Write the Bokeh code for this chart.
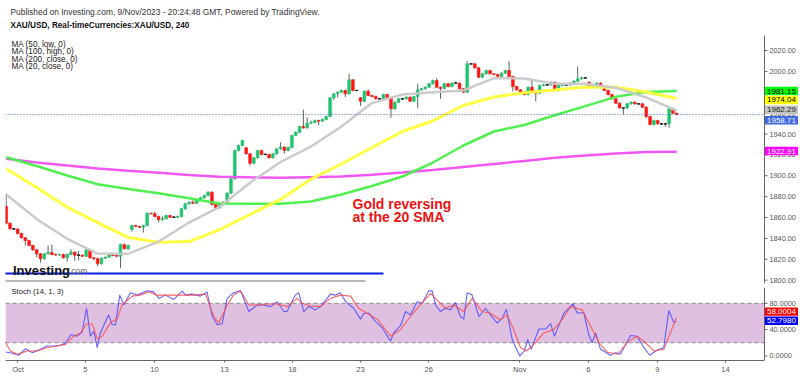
from bokeh.plotting import figure
from bokeh.layouts import column
from bokeh.models import Range1d, FixedTicker, Label, BoxAnnotation, ColumnDataSource
from bokeh.core.properties import value
from bokeh.embed import file_html
from bokeh.resources import INLINE

# ---------------- data (XAU/USD, 4h candles) ----------------
OPEN = [1870.6,1854.6,1849.2,1849.0,1844.7,1840.6,1838.0,1833.2,1829.1,1825.2,
        1820.4,1825.2,1826.5,1824.6,1824.1,1824.6,1821.4,1824.6,1826.8,1823.9,
        1823.9,1822.9,1829.1,1821.4,1820.7,1815.7,1821.0,1822.0,1824.3,1823.6,
        1822.9,1834.1,1830.0,1848.5,1852.3,1851.4,1850.7,1852.3,1864.1,1863.6,
        1861.0,1857.8,1858.8,1861.9,1860.3,1860.3,1861.0,1868.3,1873.1,1874.7,
        1873.7,1877.0,1878.9,1881.1,1884.3,1872.5,1869.3,1872.5,1874.7,1883.3,
        1897.1,1924.2,1929.0,1926.8,1921.0,1912.0,1917.2,1924.2,1920.4,1920.4,
        1917.2,1921.0,1925.8,1927.4,1924.2,1927.1,1938.6,1941.7,1947.2,1945.9,
        1950.4,1951.0,1952.9,1952.3,1953.9,1956.8,1974.7,1978.5,1980.1,1981.7,
        1978.5,1991.9,1981.7,1974.7,1971.4,1981.0,1976.9,1975.9,1973.7,1973.7,
        1977.8,1974.7,1964.1,1970.5,1973.7,1973.7,1975.3,1971.4,1975.9,1982.3,
        1983.3,1984.8,1988.1,1991.3,1984.8,1983.6,1988.1,1985.5,1988.7,1988.7,
        1983.3,1980.1,2007.2,2007.2,2003.4,1994.4,1997.7,2000.8,1997.7,1997.0,
        1995.1,1998.3,2000.8,1995.1,1985.5,1982.3,1980.1,1977.8,1984.8,1980.1,
        1979.1,1986.5,1987.1,1987.1,1989.6,1981.7,1986.5,1987.1,1987.1,1988.7,
        1990.6,1992.9,1993.8,1989.6,1985.5,1985.5,1988.7,1984.8,1981.7,1977.8,
        1973.7,1969.5,1965.0,1964.9,1968.9,1970.5,1968.9,1968.9,1965.7,1956.8,
        1949.1,1952.9,1949.8,1949.8,1949.8,1964.1,1959.9]
HIGH = [1883.0,1855.4,1850.0,1849.8,1845.5,1841.4,1838.8,1834.0,1829.9,1826.0,
        1826.0,1833.2,1834.1,1825.4,1825.4,1825.4,1825.4,1829.5,1827.6,1828.0,
        1824.7,1830.0,1829.9,1822.2,1821.5,1821.8,1822.8,1825.1,1825.1,1824.4,
        1835.0,1834.9,1834.0,1853.1,1853.1,1852.2,1853.1,1864.9,1864.9,1865.5,
        1861.8,1861.0,1862.7,1862.7,1861.1,1861.8,1869.1,1873.9,1875.5,1876.5,
        1877.8,1879.7,1881.9,1885.1,1885.1,1873.3,1873.3,1875.5,1884.1,1897.9,
        1925.0,1929.8,1934.6,1927.6,1921.8,1918.0,1925.0,1925.0,1921.2,1921.2,
        1921.8,1926.6,1932.0,1928.2,1927.9,1939.4,1942.5,1948.0,1963.2,1956.0,
        1953.0,1953.7,1953.7,1954.7,1957.6,1975.5,1979.3,1980.9,1982.5,1982.5,
        1997.7,1992.7,1982.5,1975.5,1981.8,1982.8,1977.7,1976.7,1974.5,1978.6,
        1978.6,1975.5,1971.3,1974.5,1974.5,1976.1,1976.1,1976.7,1988.1,1984.1,
        1985.6,1988.9,1992.1,1993.5,1985.6,1988.9,1988.9,1989.5,1990.5,1989.5,
        1984.1,2009.8,2008.0,2008.0,2004.2,1998.5,2001.6,2001.6,1998.5,1997.8,
        1999.1,2001.6,2009.8,1995.9,1986.3,1983.1,1980.9,1985.6,1992.9,1980.9,
        1987.3,1987.9,1987.9,1990.4,1990.4,1987.3,1987.9,1987.9,1989.5,1991.4,
        2004.7,1995.0,1994.6,1990.4,1986.3,1989.5,1989.5,1985.6,1982.5,1978.6,
        1974.5,1970.3,1965.8,1969.7,1971.3,1971.3,1969.7,1969.7,1966.5,1957.6,
        1953.7,1953.7,1950.6,1950.6,1966.9,1964.9,1960.7]
LOW = [1853.3,1848.4,1848.2,1843.9,1839.8,1833.2,1832.4,1828.3,1822.0,1816.9,
       1819.6,1824.4,1823.8,1823.3,1823.3,1820.6,1818.0,1823.8,1818.5,1819.0,
       1822.1,1822.1,1820.6,1819.0,1813.1,1814.9,1820.2,1821.2,1822.8,1822.1,
       1811.8,1829.2,1829.2,1846.5,1850.6,1849.9,1845.6,1851.5,1862.8,1860.2,
       1855.5,1857.0,1858.0,1859.5,1859.5,1859.5,1860.2,1867.5,1872.3,1872.9,
       1872.9,1876.2,1878.1,1880.3,1871.7,1868.5,1868.5,1871.7,1873.9,1882.5,
       1896.3,1923.4,1928.2,1920.2,1909.8,1911.2,1916.4,1919.6,1919.6,1916.4,
       1916.4,1920.2,1925.0,1921.0,1923.4,1926.3,1937.8,1940.9,1945.1,1945.1,
       1949.6,1950.2,1948.5,1951.5,1953.1,1956.0,1972.5,1975.0,1979.3,1975.5,
       1977.7,1980.9,1980.9,1967.0,1970.6,1976.1,1975.1,1972.9,1972.9,1972.9,
       1973.9,1955.5,1963.3,1969.7,1972.9,1972.9,1970.6,1970.6,1965.1,1981.5,
       1982.5,1984.0,1987.3,1984.0,1973.7,1982.8,1984.7,1984.7,1987.9,1982.5,
       1979.3,1979.3,2006.4,2002.6,1993.6,1993.6,1996.9,1996.9,1996.2,1994.3,
       1994.3,1997.5,1994.3,1981.0,1981.5,1979.3,1977.0,1977.0,1979.3,1971.4,
       1978.3,1985.7,1986.3,1986.3,1980.9,1980.9,1985.7,1986.3,1986.3,1987.9,
       1989.8,1992.1,1993.0,1984.7,1984.7,1984.7,1984.0,1980.9,1977.0,1972.9,
       1968.7,1964.2,1958.7,1964.1,1968.1,1968.1,1968.1,1964.9,1955.0,1948.3,
       1948.3,1949.0,1949.0,1947.0,1946.0,1959.1,1957.9]
CLOSE = [1854.6,1849.2,1849.0,1844.7,1840.6,1838.0,1833.2,1829.1,1825.2,1820.4,
         1825.2,1826.5,1824.6,1824.1,1824.6,1821.4,1824.6,1826.8,1823.9,1823.9,
         1822.9,1829.1,1821.4,1820.7,1815.7,1821.0,1822.0,1824.3,1823.6,1822.9,
         1834.1,1830.0,1833.2,1852.3,1851.4,1850.7,1852.3,1864.1,1863.6,1861.0,
         1857.8,1858.8,1861.9,1860.3,1860.3,1861.0,1868.3,1873.1,1874.7,1873.7,
         1877.0,1878.9,1881.1,1884.3,1872.5,1869.3,1872.5,1874.7,1883.3,1897.1,
         1924.2,1929.0,1933.8,1921.0,1912.0,1917.2,1924.2,1920.4,1920.4,1917.2,
         1921.0,1925.8,1927.4,1924.2,1927.1,1938.6,1941.7,1947.2,1945.9,1950.4,
         1951.0,1952.9,1952.3,1953.9,1956.8,1974.7,1978.5,1980.1,1981.7,1978.5,
         1991.9,1981.7,1981.7,1971.4,1981.0,1976.9,1975.9,1973.7,1973.7,1977.8,
         1974.7,1964.1,1970.5,1973.7,1973.7,1975.3,1971.4,1975.9,1982.3,1983.3,
         1984.8,1988.1,1991.3,1984.8,1983.6,1988.1,1985.5,1988.7,1988.7,1983.3,
         1980.1,2007.2,2007.2,2003.4,1994.4,1997.7,2000.8,1997.7,1997.0,1995.1,
         1998.3,2000.8,1995.1,1985.5,1982.3,1980.1,1977.8,1984.8,1980.1,1979.1,
         1986.5,1987.1,1987.1,1989.6,1981.7,1986.5,1987.1,1987.1,1988.7,1990.6,
         1992.9,1993.8,1993.8,1985.5,1985.5,1988.7,1984.8,1981.7,1977.8,1973.7,
         1969.5,1965.0,1964.9,1968.9,1970.5,1968.9,1968.9,1965.7,1956.8,1949.1,
         1952.9,1949.8,1949.8,1949.8,1964.1,1959.9,1958.7]

# moving averages, read every 8 bars
MA_X = [0, 8, 16, 24, 32, 40, 48, 56, 64, 72, 80, 88, 96, 104, 112, 120, 128, 136, 144, 152, 160, 168, 176]
MA20_CLOSE = [1882.0,1858.6,1839.6,1825.5,1825.2,1837.0,1855.2,1870.1,1893.4,1913.2,1928.0,1947.1,
              1969.6,1977.8,1980.1,1981.7,1993.6,1993.2,1988.1,1988.1,1984.3,1975.0,1962.3]
MA50_LOW = [1906.7,1888.8,1869.9,1855.2,1840.9,1836.3,1837.0,1848.5,1862.9,1877.3,1896.7,1911.3,
            1927.1,1942.4,1952.7,1967.3,1975.5,1979.6,1982.2,1985.0,1984.7,1980.2,1974.0]
MA100_HIGH = [1917.8,1909.3,1900.3,1891.9,1887.3,1883.2,1878.5,1873.4,1873.1,1873.1,1875.3,1882.0,
              1890.2,1899.3,1912.7,1929.0,1942.4,1948.6,1958.0,1966.7,1975.6,1980.2,1981.1]
MA200_CLOSE = [1916.2,1912.7,1909.8,1906.9,1904.8,1902.8,1900.7,1899.1,1898.5,1898.0,1898.7,1899.3,
               1901.0,1903.1,1905.5,1908.4,1911.3,1914.1,1917.2,1919.4,1921.3,1922.8,1922.9]
# last values shown in the price-scale boxes
LAST_NAMES = ["ma100", "ma50", "ma20", "price", "ma200"]
LAST_VALUES = [1981.15, 1974.04, 1962.29, 1958.71, 1922.91]

# stochastic (14,1,3): %K (blue) and %D (red)
K_X = [-0.2,1.6,3.3,5.1,6.8,8.6,10.7,13.0,14.7,15.6,17.0,18.6,19.9,21.1,22.1,23.0,23.9,24.7,26.9,27.8,
       28.7,29.8,30.9,32.6,34.4,37.0,38.7,40.1,41.8,44.0,46.2,47.1,48.8,51.0,52.7,54.1,55.4,56.7,58.0,59.7,
       61.5,63.7,65.9,67.6,69.4,71.1,72.9,73.7,75.9,76.8,78.1,79.4,81.2,82.5,85.1,86.4,87.7,89.1,91.2,93.0,
       93.9,95.2,96.9,98.7,100.9,101.7,103.5,
       104.8,106.1,107.9,109.2,110.9,111.8,112.7,114.0,115.3,116.6,117.9,119.2,120.1,121.0,122.3,124.1,125.8,
       127.1,128.9,130.2,131.3,132.8,134.8,136.0,136.9,137.8,139.8,141.6,142.9,143.9,144.6,146.4,148.8,149.9,
       151.6,152.9,153.8,154.7,156.0,158.6,159.9,161.2,163.9,165.6,167.4,168.9,170.9,172.6,173.9,175.2,175.9]
K_V = [6,4,1,11,5,9,15,15,17,20,32.5,30,36,72.5,30,37.5,12.5,35,62.5,47.5,
       47.5,92.5,77.5,96,92.5,99,97.5,87.5,92.5,86,98.5,92.5,94,91,97.5,60,47.5,49,87.5,96,
       99,67.5,77.5,77.5,75,82.5,67.5,67.5,92.5,96,67.5,75,70,75,94,92.5,96,82.5,72.5,56,
       65,65,52.5,42.5,22.5,35,46,
       67.5,62.5,82.5,80,99,99,77.5,67.5,72.5,70,81,60,56,96,92.5,60,72.5,
       62.5,50,57.5,71,25,0,7.5,25,10,41,41,49,30,40,65,79,65,
       66,32.5,20,35,10,1,5,2.5,31,30,12.5,1,9,12.5,69,51,52.798]
D_X = [-0.2,1.1,2.9,5.5,8.1,10.7,13.4,15.6,17.7,19.5,21.1,22.6,23.9,25.2,27.4,29.1,30.4,33.1,35.2,37.4,
       39.6,42.2,45.7,49.2,52.3,54.5,55.8,58.0,59.7,61.5,63.7,65.9,68.5,71.1,73.7,76.4,77.7,79.9,82.5,85.1,
       87.7,90.4,92.5,94.7,97.4,100.9,103.5,
       106.1,108.7,111.4,113.1,115.3,117.5,120.1,122.3,124.9,127.1,129.7,131.5,133.2,135.0,136.6,138.5,
       141.1,143.7,145.9,148.1,151.2,153.4,155.6,157.7,160.4,163.4,165.6,167.8,170.0,172.6,175.9]
D_V = [21,7.5,2.5,7.5,7.5,12.5,15,17.5,30,35,48.5,48.5,26,30,51,56,77.5,91,92.5,97.5,
       92.5,92.5,92.5,92.5,94,60,50,77.5,92.5,99,77.5,77.5,79,79,75,87.5,80,76,75,87.5,
       92.5,91,72.5,65,56,30,40,
       60,77.5,95,85,72.5,77.5,67.5,87.5,67.5,65,55,62.5,40,12.5,7.5,17.5,
       35,40,55,75,70,45,20,6,2.5,22.5,30,20,7.5,10,58.0004]
STOCH_LAST = [58.0004, 52.798]

PRICE_TICKS = [1800, 1820, 1840, 1860, 1880, 1900, 1920, 1940, 1960, 1980, 2000, 2020]
STOCH_TICKS = [0, 40, 80]
STOCH_BAND = (20, 80)
DATE_TICK_POS = [3.1, 20.8, 38.9, 57.3, 75.1, 93.0, 110.9, 134.8, 152.8, 170.9, 188.8]
DATE_TICK_LABELS = ["Oct", "5", "10", "13", "18", "23", "26", "Nov", "6", "9", "14"]

# ---------------- layout helpers (page pixels -> data) ----------------
FONT = "Liberation Sans"
W = 800
H1, H2 = 287, 89
FRAME_L = 5
AXIS_PX = 764                      # price-scale line
PX_PER_BAR = 3.81
XR = (-0.18, -0.18 + (W - FRAME_L) / PX_PER_BAR)
YR1 = (1796.8, 2067.9)             # price frame: page y 0 .. 283
YR2 = (-7.0, 104.1)                # stoch frame: page y 287 .. 362
U1 = (YR1[1] - YR1[0]) / 283.0     # price units per pixel
U2 = (YR2[1] - YR2[0]) / 75.0      # stoch units per pixel

def bx(px):
    return XR[0] + (px - FRAME_L) / PX_PER_BAR

def by(py):
    return YR1[1] - py * U1

def by2(py):
    return YR2[1] - (py - 287) * U2

AX = bx(AXIS_PX)

def lab(fig, x, y, text, size="8px", color="#222222", style="normal", align="left", baseline="middle"):
    fig.add_layout(Label(x=x, y=y, text=text, text_font=FONT, text_font_size=size,
                         text_color=color, text_font_style=style, text_align=align,
                         text_baseline=baseline))

def price_scale(fig, ticks, fmt, y_low, y_high):
    fig.segment(x0=[AX], y0=[y_low], x1=[AX], y1=[y_high], line_color="#666666", line_width=1)
    fig.segment(x0=[AX] * len(ticks), y0=ticks, x1=[bx(AXIS_PX + 3)] * len(ticks), y1=ticks,
                line_color="#666666", line_width=1)
    fig.text(x=[bx(AXIS_PX + 5)] * len(ticks), y=ticks, text=[fmt.format(t) for t in ticks],
             text_font=value(FONT), text_font_size="7.3px", text_color="#555555",
             text_align="left", text_baseline="middle")

def value_boxes(fig, vals, texts, bgs, fgs, shifts_px, unit):
    centers = [v + s * unit for v, s in zip(vals, shifts_px)]
    fig.quad(left=[bx(AXIS_PX + 0.5)] * len(vals), right=[bx(AXIS_PX + 33.5)] * len(vals),
             bottom=[c - 4.3 * unit for c in centers], top=[c + 4.3 * unit for c in centers],
             fill_color=bgs, line_color=None)
    fig.text(x=[bx(AXIS_PX + 2.5)] * len(vals), y=centers, text=texts,
             text_font=value(FONT), text_font_size="8px", text_color=fgs,
             text_align="left", text_baseline="middle")

# ---------------- main price panel ----------------
p1 = figure(width=W, height=H1, x_range=Range1d(*XR), y_range=Range1d(*YR1),
            x_axis_location=None, y_axis_location=None, toolbar_location=None, output_backend="svg",
            min_border_left=FRAME_L, min_border_right=0, min_border_top=0,
            min_border_bottom=H1 - 283, title=None)
p1.grid.visible = False
p1.outline_line_color = None

idx = list(range(len(CLOSE)))
colors, b_top, b_bot, dj_x, dj_y = [], [], [], [], []
for i, (o, c) in enumerate(zip(OPEN, CLOSE)):
    b_top.append(max(o, c))
    b_bot.append(min(o, c))
    if abs(c - o) < 0.3:
        colors.append("#222222")
        dj_x.append(i)
        dj_y.append(c)
    elif c > o:
        colors.append("#1ec46e")
    else:
        colors.append("#ff1414")

src = ColumnDataSource(dict(x=idx, h=HIGH, l=LOW, top=b_top, bot=b_bot, col=colors))
p1.segment(x0="x", y0="l", x1="x", y1="h", source=src, line_color="#56695c", line_width=1)
p1.vbar(x="x", width=0.72, top="top", bottom="bot", source=src, fill_color="col", line_color="col", line_width=0.6)
p1.segment(x0=[x - 0.4 for x in dj_x], y0=dj_y, x1=[x + 0.4 for x in dj_x], y1=dj_y,
           line_color="#222222", line_width=1.2)

p1.line(MA_X, MA200_CLOSE, line_color="#f04ff0", line_width=2.5, line_alpha=0.95)
p1.line(MA_X, MA100_HIGH, line_color="#48ef48", line_width=2.5, line_alpha=0.95)
p1.line(MA_X, MA50_LOW, line_color="#ffff3a", line_width=3, line_alpha=0.95)
p1.line(MA_X, MA20_CLOSE, line_color="#c8c8c8", line_width=2.5, line_alpha=0.95)

last_price = LAST_VALUES[LAST_NAMES.index("price")]
p1.line([XR[0], AX], [last_price, last_price], line_color="#3d6de0", line_dash="1 2", line_width=1)

# decorations: watermark bars
p1.line([bx(0), bx(383)], [by(273), by(273)], line_color="#0a1de0", line_width=2.2)
p1.line([bx(0), bx(365)], [by(280.5), by(280.5)], line_color="#b8b8b8", line_width=2)

lab(p1, bx(10), by(11), "Published on Investing.com, 9/Nov/2023 - 20:24:48 GMT, Powered by TradingView.", "8.4px", "#333333")
lab(p1, bx(10), by(25), "XAU/USD, Real-timeCurrencies:XAU/USD, 240", "8.2px", "#111111", "bold")
for k, t in enumerate(["MA (50, low, 0)", "MA (100, high, 0)", "MA (200, close, 0)", "MA (20, close, 0)"]):
    lab(p1, bx(11), by(43.5 + 7.5 * k), t, "8.2px", "#222222")

lab(p1, bx(352), by(203), "Gold reversing", "14px", "#ee1111", "bold")
lab(p1, bx(352), by(216.5), "at the 20 SMA", "14px", "#ee1111", "bold")

lab(p1, bx(12.5), by(270), "Investing", "13px", "#111111", "bold", baseline="alphabetic")
lab(p1, bx(68.5), by(270), ".com", "8.5px", "#666666", baseline="alphabetic")

price_scale(p1, PRICE_TICKS, "{:.2f}", by(35), YR1[0])
value_boxes(p1, LAST_VALUES, ["{:.2f}".format(v) for v in LAST_VALUES],
            ["#00ff00", "#ffff00", "#c4c4c4", "#4169e1", "#ff00ff"],
            ["#000000", "#000000", "#222222", "#ffffff", "#ffffff"],
            [0, -1.5, 0.9, -5.8, 0.8], U1)

# ---------------- stochastic panel ----------------
p2 = figure(width=W, height=H2, x_range=p1.x_range, y_range=Range1d(*YR2),
            y_axis_location=None, toolbar_location=None, output_backend="svg",
            min_border_left=FRAME_L, min_border_right=0, min_border_top=0,
            min_border_bottom=0, title=None)
p2.grid.visible = False
p2.outline_line_color = None

p2.add_layout(BoxAnnotation(right=bx(AXIS_PX - 0.5), bottom=STOCH_BAND[0], top=STOCH_BAND[1],
                            fill_color="#dfc0e0", fill_alpha=1, line_color=None, level="underlay"))
for lvl in STOCH_BAND:
    p2.line([XR[0], bx(AXIS_PX - 0.5)], [lvl, lvl], line_color="#8a8a8a", line_dash="4 3", line_width=1)
p2.line(K_X, K_V, line_color="#4a4aff", line_width=1.1, line_alpha=0.85)
p2.line(D_X, D_V, line_color="#ff4a4a", line_width=1.1, line_alpha=0.85)

xa2 = p2.xaxis[0]
xa2.ticker = FixedTicker(ticks=DATE_TICK_POS)
xa2.major_label_overrides = {pos: lbl for pos, lbl in zip(DATE_TICK_POS, DATE_TICK_LABELS)}
xa2.major_label_text_font = FONT
xa2.major_label_text_font_size = "7.5px"
xa2.major_label_text_color = "#555555"
xa2.axis_line_color = "#666666"
xa2.major_tick_line_color = "#666666"
xa2.major_tick_in = 0
xa2.major_tick_out = 2
xa2.minor_tick_line_color = None
xa2.major_label_standoff = 2
xa2.bounds = (XR[0], AX)

lab(p2, bx(11), by2(291), "Stoch (14, 1, 3)", "7.6px", "#222222")
price_scale(p2, STOCH_TICKS, "{:.4f}", YR2[0], YR2[1])
value_boxes(p2, STOCH_LAST, ["{:.4f}".format(v) for v in STOCH_LAST],
            ["#ff0000", "#0000ff"], ["#ffffff", "#ffffff"], [6.4, 0.5], U2)

layout = column(p1, p2)
open("out.html", "w").write(file_html(layout, INLINE))
